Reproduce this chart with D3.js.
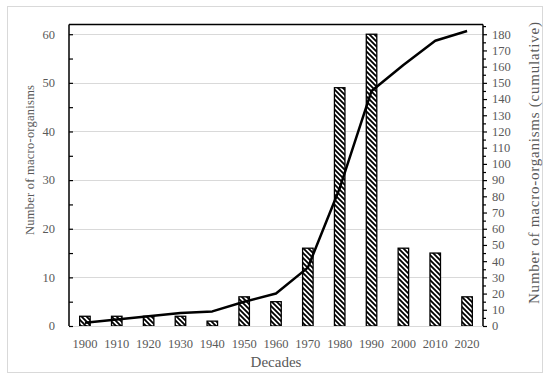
<!DOCTYPE html>
<html>
<head>
<meta charset="utf-8">
<script src="https://cdn.jsdelivr.net/npm/d3@7"></script>
<style>
  body { margin: 0; background: #fff; }
  text { font-family: "Liberation Serif", "DejaVu Serif", serif; fill: #595959; }
</style>
</head>
<body>
<svg id="chart" width="550" height="378"></svg>
<script>
// data
const decades = ["1900", "1910", "1920", "1930", "1940", "1950", "1960", "1970", "1980", "1990", "2000", "2010", "2020"];
const counts = [2, 2, 2, 2, 1, 6, 5, 16, 49, 60, 16, 15, 6];
const cumulative = [2, 4, 6, 8, 9, 15, 20, 36, 85, 145, 161, 176, 182];
const leftTicks = [0, 10, 20, 30, 40, 50, 60];
const rightTicks = d3.range(0, 181, 10);

const svg = d3.select("#chart");
const plotLeft = 69, plotRight = 483, plotTop = 24.5, plotBottom = 326;

// outer frame
svg.append("rect")
    .attr("x", 7.5).attr("y", 6.5)
    .attr("width", 535).attr("height", 366)
    .attr("fill", "none")
    .attr("stroke", "#d9d9d9");

const x = d3.scaleBand().domain(decades).range([plotLeft, plotRight])
    .paddingInner(0.67).paddingOuter(0.335);
const y = d3.scaleLinear().domain([0, 62]).range([plotBottom, plotTop]);
const y2 = d3.scaleLinear().domain([0, 186]).range([plotBottom, plotTop]);

// hatch pattern
const pat = svg.append("defs").append("pattern")
    .attr("id", "hatch")
    .attr("patternUnits", "userSpaceOnUse")
    .attr("width", 5).attr("height", 5);
pat.append("rect").attr("width", 5).attr("height", 5).attr("fill", "#fff");
pat.append("path")
    .attr("d", "M-1,-1 L6,6 M-6,-1 L1,6 M4,-1 L11,6")
    .attr("stroke", "#000")
    .attr("stroke-width", 1.8);

// gridlines
svg.append("g")
    .selectAll("line")
    .data(leftTicks)
    .enter().append("line")
    .attr("x1", plotLeft).attr("x2", plotRight)
    .attr("y1", d => Math.round(y(d)) + 0.5)
    .attr("y2", d => Math.round(y(d)) + 0.5)
    .attr("stroke", "#d9d9d9")
    .attr("stroke-width", 1);

// bars
svg.append("g")
    .selectAll("rect")
    .data(decades.map((d, i) => ({ decade: d, value: counts[i] })))
    .enter().append("rect")
    .attr("x", d => x(d.decade))
    .attr("y", d => y(d.value))
    .attr("width", x.bandwidth())
    .attr("height", d => plotBottom - y(d.value))
    .attr("fill", "url(#hatch)")
    .attr("stroke", "#000")
    .attr("stroke-width", 1.3);

// cumulative line
const line = d3.line()
    .x((d, i) => x(decades[i]) + x.bandwidth() / 2)
    .y(d => y2(d));
svg.append("path")
    .datum(cumulative)
    .attr("d", line)
    .attr("fill", "none")
    .attr("stroke", "#000")
    .attr("stroke-width", 2.5)
    .attr("stroke-linejoin", "round");

// frame lines: top in black, bottom in gray
svg.append("line")
    .attr("x1", plotLeft).attr("x2", plotRight).attr("y1", plotTop).attr("y2", plotTop)
    .attr("stroke", "#000").attr("stroke-width", 1.5);
svg.append("line")
    .attr("x1", plotLeft).attr("x2", plotRight).attr("y1", plotBottom + 0.5).attr("y2", plotBottom + 0.5)
    .attr("stroke", "#d9d9d9").attr("stroke-width", 1);

// left axis (ticks point inward)
const yAxis = svg.append("g")
    .attr("transform", `translate(${plotLeft},0)`)
    .call(d3.axisRight(y).tickValues(d3.range(0, 61, 5)).tickSize(4).tickFormat(""));
yAxis.select(".domain").attr("stroke", "#000").attr("stroke-width", 1.5)
    .attr("d", `M0,${plotTop}V${plotBottom}`);
yAxis.selectAll(".tick line").attr("stroke", "#000").attr("stroke-width", 1.2);

svg.append("g")
    .selectAll("text")
    .data(leftTicks)
    .enter().append("text")
    .attr("x", 55)
    .attr("y", d => y(d))
    .attr("dy", "0.35em")
    .attr("text-anchor", "end")
    .style("font-size", "12.5px")
    .text(d => d);

// right axis
const y2Axis = svg.append("g")
    .attr("transform", `translate(${plotRight},0)`)
    .call(d3.axisRight(y2).tickValues(d3.range(0, 186, 5)).tickSize(3).tickFormat(""));
y2Axis.select(".domain").attr("stroke", "#000").attr("stroke-width", 1.5)
    .attr("d", `M0,${plotTop}V${plotBottom}`);
y2Axis.selectAll(".tick line").attr("stroke", "#000").attr("stroke-width", 1.2)
    .attr("x2", d => d % 10 === 0 ? 4 : 3);

svg.append("g")
    .selectAll("text")
    .data(rightTicks)
    .enter().append("text")
    .attr("x", 492)
    .attr("y", d => y2(d))
    .attr("dy", "0.35em")
    .attr("text-anchor", "start")
    .style("font-size", "12.5px")
    .text(d => d);

// x labels
svg.append("g")
    .selectAll("text")
    .data(decades)
    .enter().append("text")
    .attr("x", d => x(d) + x.bandwidth() / 2)
    .attr("y", 344)
    .attr("dy", "0.35em")
    .attr("text-anchor", "middle")
    .style("font-size", "12.5px")
    .text(d => d);

// axis titles
svg.append("text")
    .attr("x", 276).attr("y", 362)
    .attr("dy", "0.35em")
    .attr("text-anchor", "middle")
    .style("font-size", "15px")
    .text("Decades");

svg.append("text")
    .attr("transform", "translate(30,160) rotate(-90)")
    .attr("dy", "0.35em")
    .attr("text-anchor", "middle")
    .attr("textLength", 150)
    .attr("lengthAdjust", "spacing")
    .style("font-size", "12.5px")
    .text("Number of macro-organisms");

svg.append("text")
    .attr("transform", "translate(534,163) rotate(-90)")
    .attr("dy", "0.35em")
    .attr("text-anchor", "middle")
    .attr("textLength", 282)
    .attr("lengthAdjust", "spacing")
    .style("font-size", "15px")
    .text("Number of macro-organisms (cumulative)");
</script>
</body>
</html>
